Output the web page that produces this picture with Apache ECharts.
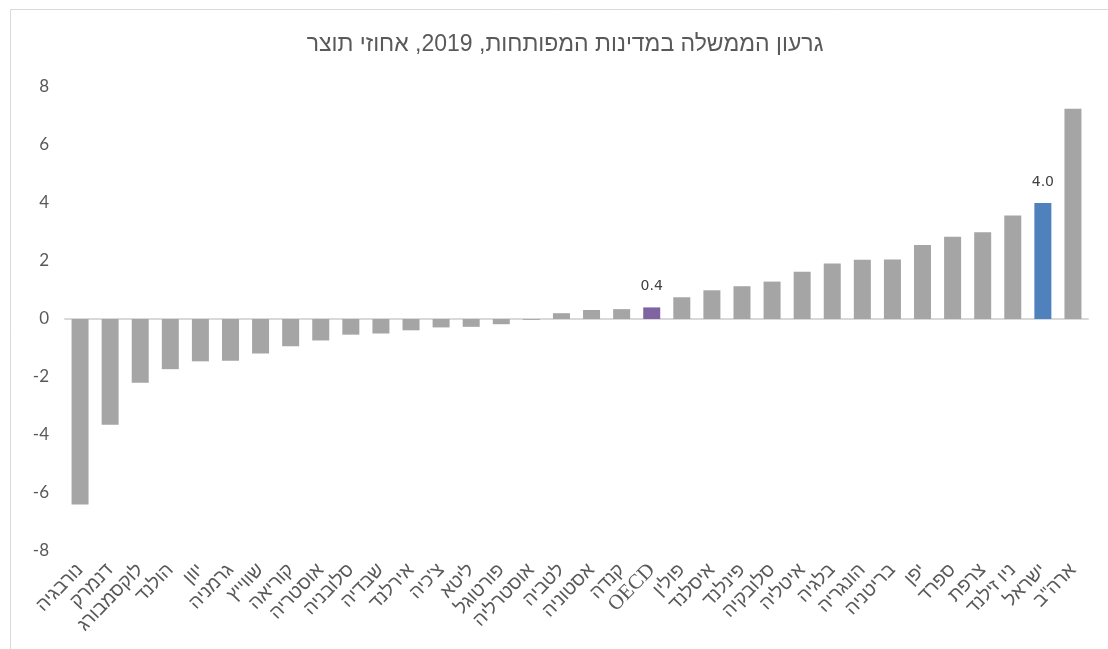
<!DOCTYPE html>
<html><head><meta charset="utf-8">
<script src="https://cdn.jsdelivr.net/npm/echarts@6/dist/echarts.min.js"></script>
<style>html,body{margin:0;padding:0;background:#fff}#c{width:1108px;height:649px}</style>
</head><body><div id="c"></div>
<script>
const titleText = 'גרעון הממשלה במדינות המפותחות, 2019, אחוזי תוצר';
const categories = ['נורבגיה','דנמרק','לוקסמבורג','הולנד','יוון','גרמניה','שווייץ','קוריאה','אוסטריה','סלובניה','שבדיה','אירלנד','צ\'כיה','ליטא','פורטוגל','אוסטרליה','לטביה','אסטוניה','קנדה','OECD','פולין','איסלנד','פינלנד','סלובקיה','איטליה','בלגיה','הונגריה','בריטניה','יפן','ספרד','צרפת','ניו זילנד','ישראל','ארה"ב'];
const values = [-6.4,-3.65,-2.2,-1.73,-1.46,-1.44,-1.19,-0.94,-0.74,-0.54,-0.5,-0.39,-0.29,-0.27,-0.18,-0.03,0.2,0.31,0.34,0.4,0.75,0.99,1.13,1.29,1.63,1.91,2.04,2.05,2.55,2.84,2.99,3.57,4.0,7.25];
const yTicks = {min:-8, max:8, interval:2};
const highlightColors = {'OECD':'#8064a2','ישראל':'#4f81bd'};
const labeledCategories = ['OECD','ישראל'];

const chart = echarts.init(document.getElementById('c'), null, {renderer:'canvas'});
chart.setOption({
  animation:false,
  backgroundColor:'#fff',
  graphic:[{type:'rect', shape:{x:10.5,y:9.5,width:1300,height:900}, style:{fill:'none',stroke:'#d9d9d9',lineWidth:1}, silent:true}],
  title:{text:titleText, left:560, textAlign:'center', top:28,
    textStyle:{fontFamily:"'Liberation Sans', Arial, sans-serif", fontSize:23, fontWeight:'normal', color:'#595959'}},
  grid:{left:65, right:20, top:87, height:464},
  xAxis:[{
    type:'category', data:categories, position:'bottom',
    axisLine:{show:false, onZero:false}, axisTick:{show:false},
    axisLabel:{interval:0, rotate:46, margin:16, color:'#595959', fontSize:19,
      fontFamily:"'Liberation Sans', Arial, 'DejaVu Sans', sans-serif",
      formatter:v=>/^[A-Za-z]+$/.test(v)?'{latin|'+v+'}':v,
      rich:{latin:{fontFamily:"'Liberation Serif', 'Times New Roman', serif", fontSize:21, color:'#595959'}}}
  },{
    type:'category', data:categories, position:'top',
    axisLine:{show:true, onZero:true, lineStyle:{color:'#d9d9d9', width:2}},
    axisTick:{show:false}, axisLabel:{show:false}
  }],
  yAxis:{type:'value', min:yTicks.min, max:yTicks.max, interval:yTicks.interval,
    axisLine:{show:false}, axisTick:{show:false}, splitLine:{show:false},
    axisLabel:{margin:16, color:'#595959', fontSize:17, fontFamily:"Lato, 'Liberation Sans', sans-serif"}},
  series:[{
    type:'bar', data:values, barWidth:17,
    itemStyle:{color:p=>highlightColors[p.name]||'#a5a5a5'},
    label:{show:true, position:'top', distance:14, color:'#404040', fontSize:14,
      fontFamily:"'DejaVu Sans', sans-serif",
      formatter:p=>labeledCategories.includes(p.name)?p.value.toFixed(1):''}
  }]
});
</script></body></html>
